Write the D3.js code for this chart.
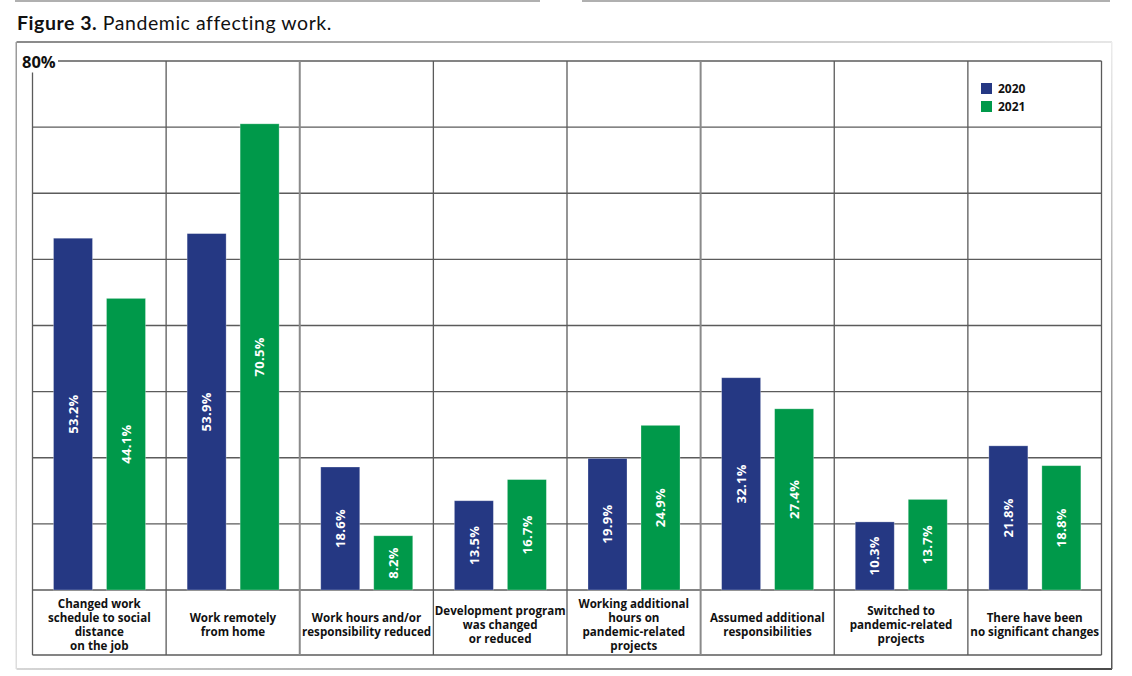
<!DOCTYPE html>
<html>
<head>
<meta charset="utf-8">
<script src="https://cdn.jsdelivr.net/npm/d3@7"></script>
<style>
  html, body { margin: 0; padding: 0; background: #fff; }
  svg { display: block; }
</style>
</head>
<body>
<svg id="chart" width="1132" height="676"></svg>
<script>
// ---- data ----
const categories = [
  "Changed work schedule to social distance on the job",
  "Work remotely from home",
  "Work hours and/or responsibility reduced",
  "Development program was changed or reduced",
  "Working additional hours on pandemic-related projects",
  "Assumed additional responsibilities",
  "Switched to pandemic-related projects",
  "There have been no significant changes"
];
const categoryLines = [
  ["Changed work", "schedule to social", "distance", "on the job"],
  ["Work remotely", "from home"],
  ["Work hours and/or", "responsibility reduced"],
  ["Development program", "was changed", "or reduced"],
  ["Working additional", "hours on", "pandemic-related", "projects"],
  ["Assumed additional", "responsibilities"],
  ["Switched to", "pandemic-related", "projects"],
  ["There have been", "no significant changes"]
];
const seriesNames = ["2020", "2021"];
const values2020 = [53.2, 53.9, 18.6, 13.5, 19.9, 32.1, 10.3, 21.8];
const values2021 = [44.1, 70.5, 8.2, 16.7, 24.9, 27.4, 13.7, 18.8];
const yTicks = [10, 20, 30, 40, 50, 60, 70, 80];
const yMaxLabel = "80%";
const colors = { "2020": "#253883", "2021": "#00994a" };

// ---- layout ----
const svg = d3.select("#chart");
const plotL = 32.5, plotR = 1101.5, plotT = 61, baseY = 590, bottomY = 655;
const gridColor = "#5b5b5b";
const font = "'Open Sans', 'Noto Sans', sans-serif";

const x = d3.scaleBand().domain(categories).range([plotL, plotR]).paddingInner(0).paddingOuter(0);
const xInner = d3.scaleBand().domain(seriesNames).range([21, 113]).paddingInner(0.264).paddingOuter(0);
const y = d3.scaleLinear().domain([0, 80]).range([baseY, plotT]);

const defs = svg.append("defs");
function grad(id, x1, y1, x2, y2, c1, c2) {
  const g = defs.append("linearGradient").attr("id", id)
    .attr("x1", x1).attr("y1", y1).attr("x2", x2).attr("y2", y2);
  g.append("stop").attr("offset", "0%").attr("stop-color", c1);
  g.append("stop").attr("offset", "100%").attr("stop-color", c2);
}
grad("gTop", "0", "0", "1", "0", "#8a8a8a", "#e6e6e6");
grad("gBot", "0", "0", "1", "0", "#d6d6d6", "#4a4a4a");
grad("gLeft", "0", "0", "0", "1", "#9a9a9a", "#dedede");
grad("gRight", "0", "0", "0", "1", "#ececec", "#555555");

// decorative top rules
svg.append("rect").attr("x", 15).attr("y", 0).attr("width", 525).attr("height", 2).attr("fill", "#b0b0b0");
svg.append("rect").attr("x", 582).attr("y", 0).attr("width", 528).attr("height", 2).attr("fill", "#b0b0b0");

// title
const title = svg.append("text").attr("x", 17).attr("y", 30)
  .attr("font-family", "Lato, 'Open Sans', sans-serif").attr("font-size", 19.5)
  .attr("letter-spacing", 0.55).attr("fill", "#111");
title.append("tspan").attr("font-weight", 700).text("Figure 3.");
title.append("tspan").attr("font-weight", 400).text(" Pandemic affecting work.");

// outer frame
const fL = 16.5, fR = 1112, fT = 42, fB = 669;
svg.append("rect").attr("x", fL).attr("y", fT - 1).attr("width", fR - fL).attr("height", 2).attr("fill", "url(#gTop)");
svg.append("rect").attr("x", fL).attr("y", fB - 1).attr("width", fR - fL).attr("height", 2).attr("fill", "url(#gBot)");
svg.append("rect").attr("x", fL - 1).attr("y", fT).attr("width", 1.5).attr("height", fB - fT).attr("fill", "url(#gLeft)");
svg.append("rect").attr("x", fR - 1).attr("y", fT).attr("width", 1.5).attr("height", fB - fT).attr("fill", "url(#gRight)");

// horizontal grid
const grid = svg.append("g").attr("stroke", gridColor).attr("stroke-width", 1.3);
yTicks.forEach(t => {
  grid.append("line")
    .attr("x1", t === 80 ? 58 : plotL).attr("x2", plotR)
    .attr("y1", y(t)).attr("y2", y(t));
});
grid.append("line").attr("x1", plotL).attr("x2", plotR).attr("y1", baseY).attr("y2", baseY);
grid.append("line").attr("x1", plotL).attr("x2", plotR).attr("y1", bottomY).attr("y2", bottomY);

// vertical grid
const bounds = categories.map(c => x(c)).concat([plotR]);
bounds.forEach((bx, i) => {
  grid.append("line").attr("x1", bx).attr("x2", bx)
    .attr("y1", i === 0 ? 72.5 : plotT).attr("y2", bottomY)
    .attr("stroke", (i === 2 || i === 5) ? "#8a8a8a" : gridColor)
    .attr("stroke-width", (i === 2 || i === 5) ? 2 : 1.3);
});

// y max label
svg.append("text").attr("x", 22).attr("y", 62).attr("dy", "0.36em")
  .attr("font-family", font).attr("font-weight", 700).attr("font-size", 16.5)
  .attr("fill", "#111").text(yMaxLabel);

// bars
const data = [];
categories.forEach((c, i) => {
  data.push({ cat: c, s: "2020", v: values2020[i] });
  data.push({ cat: c, s: "2021", v: values2021[i] });
});
const bars = svg.append("g");
bars.selectAll("rect").data(data).enter().append("rect")
  .attr("x", d => x(d.cat) + xInner(d.s))
  .attr("width", xInner.bandwidth())
  .attr("y", d => y(d.v))
  .attr("height", d => baseY - y(d.v))
  .attr("fill", d => colors[d.s])
  .attr("stroke", "rgba(255,255,255,0.35)").attr("stroke-width", 0.8);

// value labels
bars.selectAll("text").data(data).enter().append("text")
  .attr("transform", d => {
    const cx = x(d.cat) + xInner(d.s) + xInner.bandwidth() / 2;
    const cy = (y(d.v) + baseY) / 2;
    return `translate(${cx},${cy}) rotate(-90)`;
  })
  .attr("text-anchor", "middle").attr("dy", "0.36em")
  .attr("font-family", font).attr("font-weight", 700).attr("font-size", 13)
  .attr("letter-spacing", 0.3)
  .attr("fill", "#fff")
  .text(d => d.v.toFixed(1) + "%");

// category labels
const labG = svg.append("g").attr("font-family", font).attr("font-weight", 700)
  .attr("font-size", 11.6).attr("fill", "#111").attr("text-anchor", "middle");
const lineH = 14;
const labCenter = 624.5;
categories.forEach((c, i) => {
  const lines = categoryLines[i];
  const cx = x(c) + x.bandwidth() / 2;
  const top = labCenter - (lines.length - 1) * lineH / 2;
  lines.forEach((ln, j) => {
    labG.append("text").attr("x", cx).attr("y", top + j * lineH).attr("dy", "0.36em").text(ln);
  });
});

// legend
const leg = svg.append("g");
seriesNames.forEach((s, i) => {
  const ly = 83 + i * 18;
  leg.append("rect").attr("x", 981).attr("y", ly).attr("width", 11).attr("height", 11).attr("fill", colors[s]);
  leg.append("text").attr("x", 998).attr("y", ly + 5.5).attr("dy", "0.36em")
    .attr("font-family", font).attr("font-weight", 700).attr("font-size", 12)
    .attr("fill", "#111").text(s);
});
</script>
</body>
</html>
